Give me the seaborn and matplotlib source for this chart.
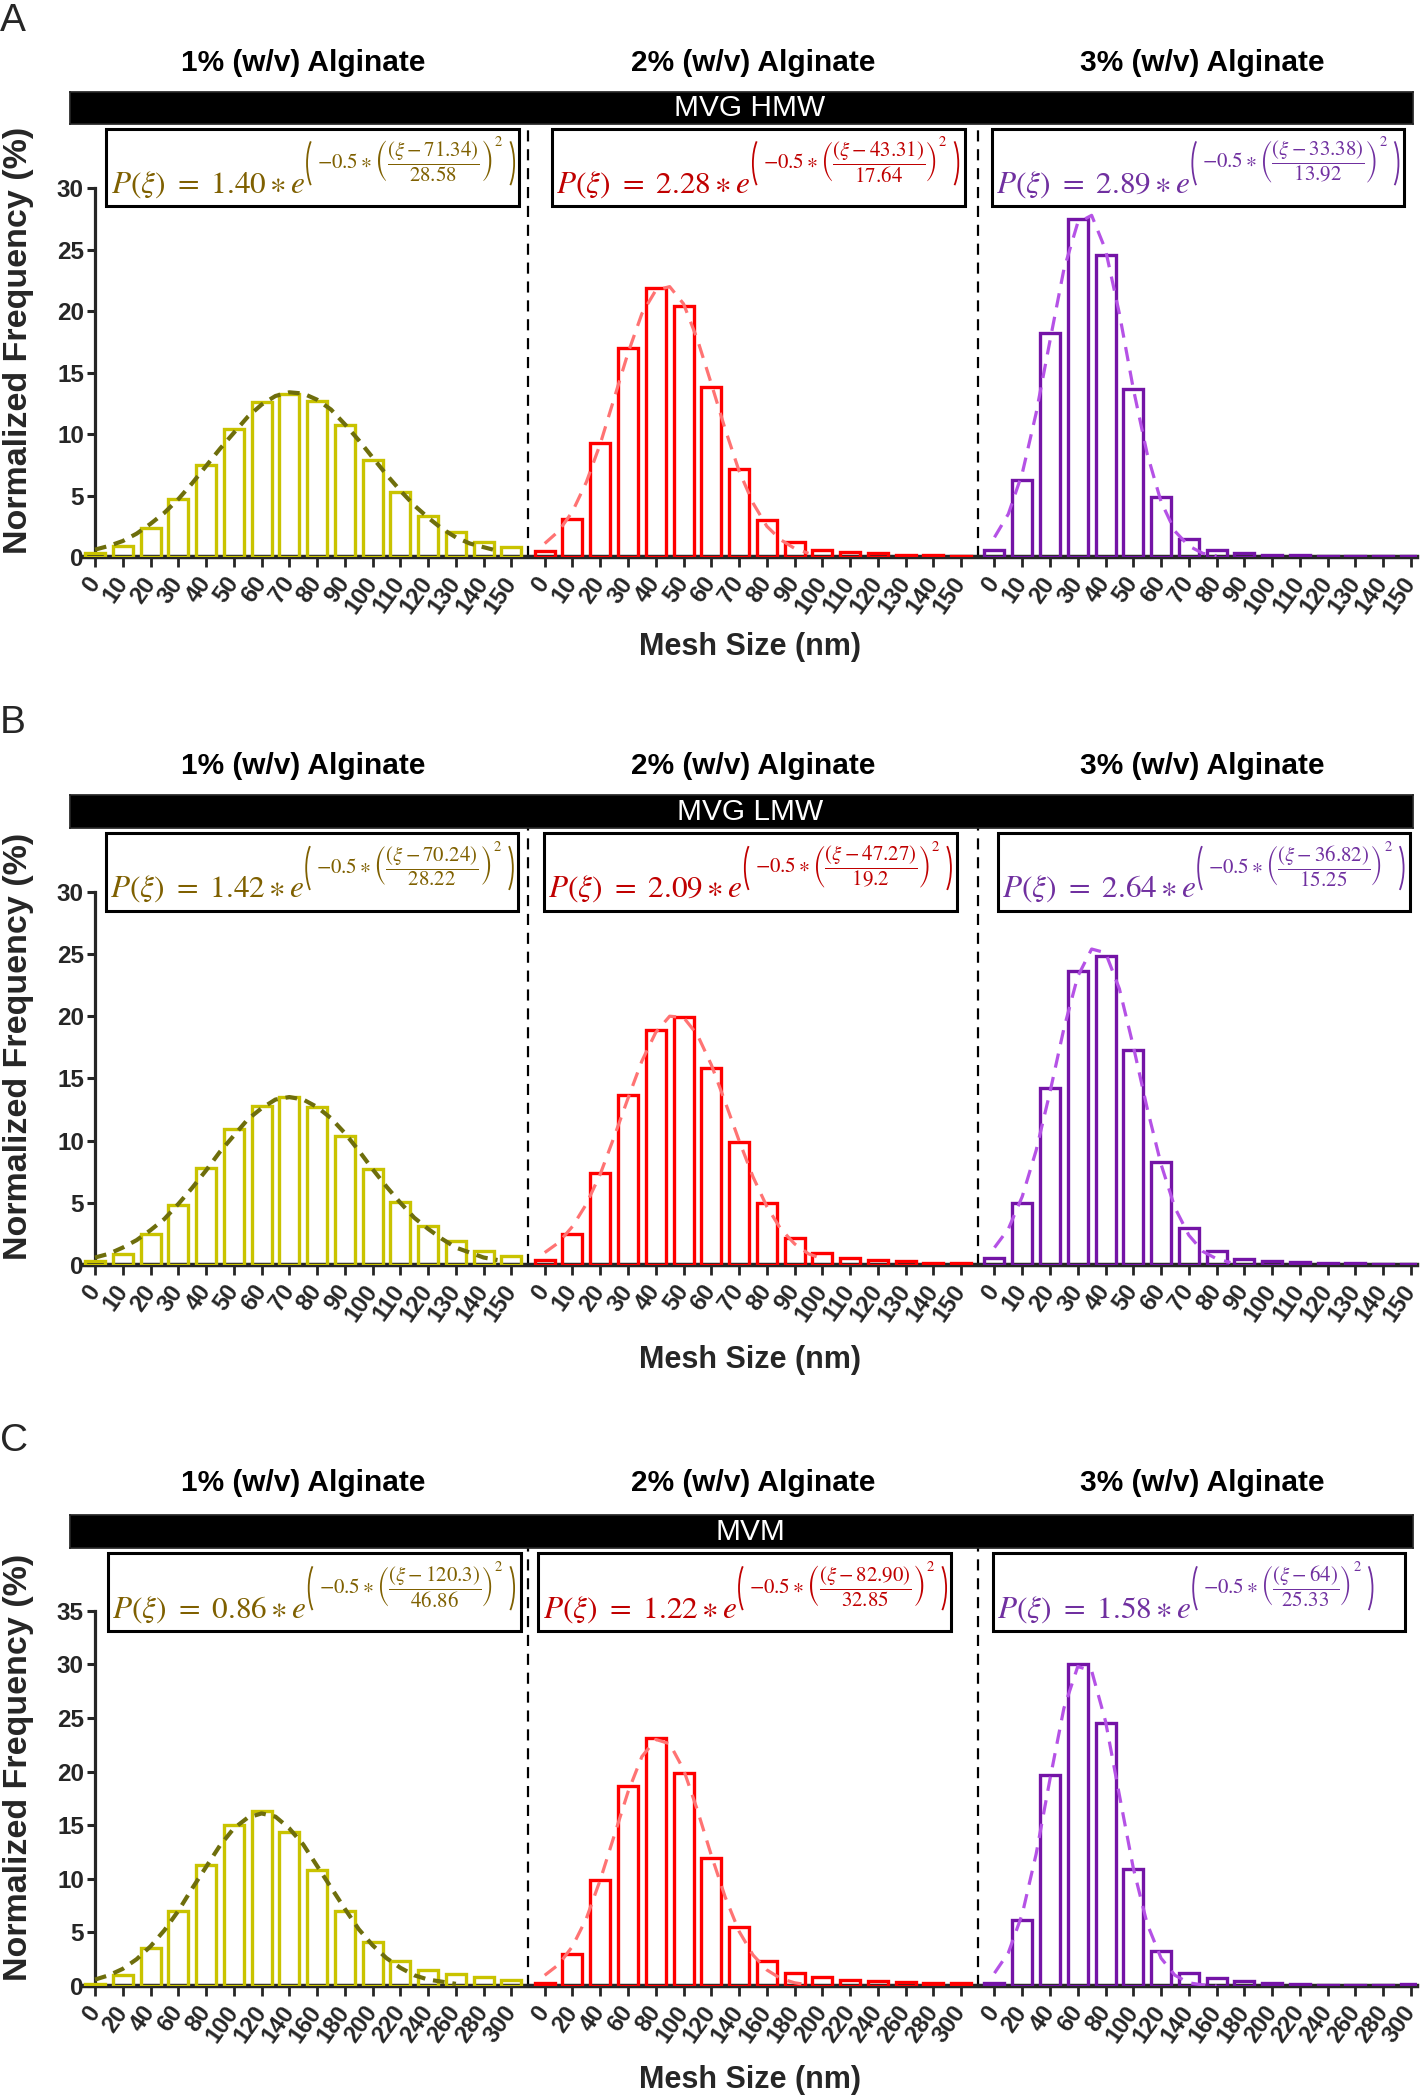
import numpy as np
import pandas as pd
import seaborn as sns
import matplotlib.pyplot as plt
import matplotlib.transforms as mtransforms
from matplotlib.patches import Rectangle, Arc

sns.set_theme(style='ticks')
plt.rcParams['font.family'] = ['Liberation Sans', 'DejaVu Sans']
plt.rcParams['mathtext.fontset'] = 'stix'

# ---------------- 数据 ----------------
groups = ['1% (w/v) Alginate', '2% (w/v) Alginate', '3% (w/v) Alginate']
panel_tags = ['A', 'B', 'C']
panel_names = ['MVG HMW', 'MVG LMW', 'MVM']

bins_ab = [0, 10, 20, 30, 40, 50, 60, 70, 80, 90, 100, 110, 120, 130, 140, 150]
bins_c = [0, 20, 40, 60, 80, 100, 120, 140, 160, 180, 200, 220, 240, 260, 280, 300]

# 柱状图 (Normalized Frequency %)
freq_a1 = [0.3, 0.9, 2.4, 4.7, 7.5, 10.4, 12.6, 13.3, 12.7, 10.7, 7.9, 5.3, 3.3, 2.0, 1.2, 0.8]
freq_a2 = [0.5, 3.1, 9.3, 17.0, 21.9, 20.4, 13.8, 7.2, 3.0, 1.2, 0.6, 0.4, 0.3, 0.2, 0.2, 0.1]
freq_a3 = [0.6, 6.3, 18.2, 27.5, 24.6, 13.7, 4.9, 1.5, 0.6, 0.3, 0.2, 0.15, 0.1, 0.05, 0.05, 0.05]

freq_b1 = [0.3, 0.9, 2.5, 4.8, 7.8, 10.9, 12.8, 13.5, 12.7, 10.4, 7.7, 5.1, 3.1, 1.9, 1.1, 0.7]
freq_b2 = [0.4, 2.5, 7.4, 13.7, 18.9, 19.9, 15.8, 9.9, 5.0, 2.2, 1.0, 0.6, 0.4, 0.3, 0.2, 0.2]
freq_b3 = [0.6, 5.0, 14.2, 23.6, 24.8, 17.3, 8.3, 3.0, 1.1, 0.5, 0.3, 0.25, 0.2, 0.15, 0.1, 0.1]

freq_c1 = [0.2, 1.0, 3.5, 7.0, 11.3, 15.0, 16.3, 14.4, 10.8, 7.0, 4.1, 2.3, 1.5, 1.1, 0.8, 0.6]
freq_c2 = [0.3, 3.0, 9.9, 18.7, 23.1, 19.9, 11.9, 5.5, 2.3, 1.2, 0.8, 0.6, 0.5, 0.4, 0.3, 0.3]
freq_c3 = [0.3, 6.2, 19.7, 30.0, 24.5, 10.9, 3.3, 1.2, 0.7, 0.5, 0.3, 0.2, 0.1, 0.1, 0.05, 0.2]

# 拟合曲线 (读图得到的点)
fit_x_a1 = [0, 5, 10, 15, 20, 25, 30, 35, 40, 45, 50, 55, 60, 65, 70, 75, 80, 85, 90, 95,
            100, 105, 110, 115, 120, 125, 130, 135, 140, 145]
fit_y_a1 = [0.6, 0.9, 1.3, 1.9, 2.7, 3.6, 4.7, 6.0, 7.4, 8.8, 10.1, 11.4, 12.4, 13.1, 13.4, 13.3,
            12.8, 12.0, 10.8, 9.5, 8.1, 6.7, 5.4, 4.2, 3.2, 2.3, 1.6, 1.1, 0.8, 0.5]
fit_x_a2 = [0, 5, 10, 15, 20, 25, 30, 35, 40, 45, 50, 55, 60, 65, 70, 75, 80, 85, 90, 95]
fit_y_a2 = [1.1, 2.1, 3.7, 6.1, 9.2, 12.9, 16.6, 19.8, 21.7, 22.0, 20.6, 17.7, 14.1, 10.4, 7.0,
            4.4, 2.5, 1.4, 0.7, 0.3]
fit_x_a3 = [0, 5, 10, 15, 20, 25, 30, 35, 40, 45, 50, 55, 60, 65, 70, 75, 80]
fit_y_a3 = [1.6, 3.5, 6.8, 11.7, 17.6, 23.4, 27.2, 27.8, 25.0, 19.8, 13.7, 8.4, 4.5, 2.1, 0.9, 0.3, 0.1]

fit_x_b1 = fit_x_a1
fit_y_b1 = [0.6, 0.9, 1.4, 2.0, 2.8, 3.7, 4.9, 6.2, 7.6, 9.1, 10.4, 11.7, 12.6, 13.3, 13.5, 13.3,
            12.7, 11.8, 10.6, 9.2, 7.7, 6.3, 5.0, 3.8, 2.9, 2.1, 1.4, 1.0, 0.6, 0.4]
fit_x_b2 = [0, 5, 10, 15, 20, 25, 30, 35, 40, 45, 50, 55, 60, 65, 70, 75, 80, 85, 90, 95, 100]
fit_y_b2 = [1.0, 1.8, 3.1, 4.9, 7.3, 10.3, 13.4, 16.4, 18.7, 20.0, 19.9, 18.5, 16.1, 13.1, 10.0,
            7.1, 4.7, 2.9, 1.7, 0.9, 0.5]
fit_x_b3 = [0, 5, 10, 15, 20, 25, 30, 35, 40, 45, 50, 55, 60, 65, 70, 75, 80, 85]
fit_y_b3 = [1.4, 2.9, 5.5, 9.2, 13.9, 19.0, 23.2, 25.4, 25.1, 22.2, 17.6, 12.6, 8.1, 4.6, 2.4, 1.1, 0.5, 0.2]

fit_x_c1 = [0, 10, 20, 30, 40, 50, 60, 70, 80, 90, 100, 110, 120, 130, 140, 150, 160, 170, 180,
            190, 200, 210, 220, 230, 240, 250, 260]
fit_y_c1 = [0.6, 1.0, 1.6, 2.5, 3.7, 5.2, 7.0, 9.1, 11.1, 13.1, 14.7, 15.7, 16.1, 15.8, 14.7, 13.2,
            11.2, 9.2, 7.2, 5.3, 3.8, 2.6, 1.7, 1.0, 0.6, 0.4, 0.2]
fit_x_c2 = [0, 10, 20, 30, 40, 50, 60, 70, 80, 90, 100, 110, 120, 130, 140, 150, 160, 170, 180, 190]
fit_y_c2 = [1.0, 2.0, 3.7, 6.3, 9.9, 14.0, 18.1, 21.4, 23.0, 22.6, 20.2, 16.4, 12.2, 8.3, 5.1, 2.9,
            1.5, 0.7, 0.3, 0.1]
fit_x_c3 = [0, 10, 20, 30, 40, 50, 60, 70, 80, 90, 100, 110, 120, 130, 140, 150, 160]
fit_y_c3 = [1.2, 3.1, 6.7, 12.3, 19.3, 25.9, 29.8, 29.4, 24.7, 17.8, 11.0, 5.8, 2.6, 1.0, 0.3, 0.1, 0.0]

# 拟合方程
eq_a = [('1.40', '71.34', '28.58'), ('2.28', '43.31', '17.64'), ('2.89', '33.38', '13.92')]
eq_b = [('1.42', '70.24', '28.22'), ('2.09', '47.27', '19.2'), ('2.64', '36.82', '15.25')]
eq_c = [('0.86', '120.3', '46.86'), ('1.22', '82.90', '32.85'), ('1.58', '64', '25.33')]

y_top_ticks = [30, 30, 35]

# ---------------- 样式 ----------------
bar_colors = ['#C9C300', '#FF0000', '#7414A6']
fit_colors = ['#6E6E0C', '#FF7373', '#B552E6']
eq_colors = ['#7F6000', '#C00000', '#7030A0']

W, H = 1424, 2100
fig = plt.figure(figsize=(W / 100, H / 100), dpi=100)
renderer = fig.canvas.get_renderer()
ident = mtransforms.IdentityTransform()


def px_axes(x0, y0, x1, y1):
    return fig.add_axes([x0 / W, 1 - y1 / H, (x1 - x0) / W, (y1 - y0) / H])


def paren(ax, x, y0, h, color, left=True):
    # 外层大括号 (像素坐标)
    rx = 14
    hh = h / 0.906
    if left:
        arc = Arc((x + rx, y0 + h / 2), 2 * rx, hh, theta1=115, theta2=245, transform=ident,
                  color=color, linewidth=1.3, clip_on=False, zorder=7)
    else:
        arc = Arc((x + 8 - rx, y0 + h / 2), 2 * rx, hh, theta1=-65, theta2=65, transform=ident,
                  color=color, linewidth=1.3, clip_on=False, zorder=7)
    ax.add_artist(arc)


offset = 16.2          # 组间距 (以柱子为单位)
ax_left, ax_right = 82.5, 1417
xlim = (-0.45, 2 * offset + 15.22)

# 每个面板: 坐标轴上/下, 黑条上, 字母位置, 标题距离, xlabel距离, 方程框左边
layout = [
    dict(top=124, bottom=557, bar_top=92, letter=3, title_gap=61, xlab=90,
         box_left=[0.41, 0.27, -0.1]),
    dict(top=828, bottom=1265, bar_top=795, letter=705, title_gap=62, xlab=95,
         box_left=[0.38, -0.02, 0.11]),
    dict(top=1548, bottom=1986, bar_top=1515, letter=1423, title_gap=65, xlab=94,
         box_left=[0.47, -0.23, -0.07]),
]

all_bins = [bins_ab, bins_ab, bins_c]
all_freq = [[freq_a1, freq_a2, freq_a3], [freq_b1, freq_b2, freq_b3], [freq_c1, freq_c2, freq_c3]]
all_fit_x = [[fit_x_a1, fit_x_a2, fit_x_a3], [fit_x_b1, fit_x_b2, fit_x_b3], [fit_x_c1, fit_x_c2, fit_x_c3]]
all_fit_y = [[fit_y_a1, fit_y_a2, fit_y_a3], [fit_y_b1, fit_y_b2, fit_y_b3], [fit_y_c1, fit_y_c2, fit_y_c3]]
all_eq = [eq_a, eq_b, eq_c]

for p in range(3):
    lay = layout[p]
    bins = all_bins[p]
    bw = bins[1] - bins[0]
    ymax_tick = y_top_ticks[p]
    ax_h = lay['bottom'] - lay['top']

    ax = px_axes(ax_left, lay['top'], ax_right, lay['bottom'])
    # y 轴尺度: 像素/单位
    unit_px = [12.29, 12.44, 10.72][p]
    trans = mtransforms.blended_transform_factory(ax.transData, ax.transAxes)

    tick_pos = []
    tick_lab = []
    for g in range(3):
        pos = [b / bw + g * offset for b in bins]
        df = pd.DataFrame({'pos': pos, 'freq': all_freq[p][g]})
        sns.barplot(data=df, x='pos', y='freq', native_scale=True, fill=False,
                    color=bar_colors[g], width=0.72, linewidth=2.4, errorbar=None,
                    ax=ax, zorder=3)
        fx = [v / bw + g * offset for v in all_fit_x[p][g]]
        sns.lineplot(x=fx, y=all_fit_y[p][g], ax=ax, color=fit_colors[g],
                     linewidth=3.0 if g == 0 else 2.3,
                     linestyle=(0, (2.8, 1.9)) if g == 0 else (0, (4.5, 3.0)),
                     zorder=4)
        tick_pos += pos
        tick_lab += [str(b) for b in bins]

        # 组标题
        ax.annotate(groups[g], xy=(g * offset + 7.5, 1), xycoords=('data', 'axes fraction'),
                    xytext=(0, lay['title_gap'] * 0.72), textcoords='offset points',
                    ha='center', va='center', fontsize=21.5, fontweight='bold', color='black')

    ax.set_xlim(*xlim)
    ax.set_ylim(0, ax_h / unit_px)

    # 方程框
    for g in range(3):
        bx = g * offset + lay['box_left'][g]
        ax.add_patch(Rectangle((bx, 0.81), 14.86, 0.178, transform=trans, facecolor='white',
                               edgecolor='black', linewidth=2.2, zorder=6, clip_on=False))
        amp, mu, sig = all_eq[p][g]
        base_xy = (bx + 0.15, 0.81 + 14 / ax_h)
        bxd, byd = trans.transform(base_xy)
        main = ax.text(bxd, byd, r'$P(\xi)\ =\ ' + amp + r'\ast e$', transform=ident,
                       color=eq_colors[g], fontsize=22.5, ha='left', va='baseline', zorder=7)
        w_main = main.get_window_extent(renderer=renderer).width
        x_lp = bxd + w_main + 2
        inner = ax.text(x_lp + 10, byd + 24, r'$-0.5\ast\left(\dfrac{(\xi-' + mu + r')}{' + sig
                        + r'}\right)$', transform=ident, color=eq_colors[g], fontsize=15,
                        ha='left', va='baseline', zorder=7)
        ib = inner.get_window_extent(renderer=renderer)
        sq = ax.text(ib.x1 + 1.5, byd + 46, '$2$', transform=ident, color=eq_colors[g],
                     fontsize=10.5, ha='left', va='baseline', zorder=7)
        sb = sq.get_window_extent(renderer=renderer)
        paren(ax, x_lp, byd, 58, eq_colors[g], left=True)
        paren(ax, sb.x1 + 3, byd, 58, eq_colors[g], left=False)

    # 分隔虚线
    for s in [offset - 0.6, 2 * offset - 0.6]:
        ax.axvline(s, color='black', linewidth=1.6, linestyle=(0, (5, 3.5)), zorder=2)

    ax.set_xticks(tick_pos)
    ax.set_xticklabels(tick_lab)
    ax.set_yticks([0, 5, 10, 15, 20, 25, 30, 35][: ymax_tick // 5 + 1])

    for side in ['top', 'right']:
        ax.spines[side].set_visible(False)
    ax.spines['bottom'].set_linewidth(3.2)
    ax.spines['left'].set_linewidth(2.3)
    ax.spines['left'].set_position(('data', 0))
    ax.spines['left'].set_bounds(0, ymax_tick)
    ax.tick_params(axis='y', direction='out', length=6, width=2.2, labelsize=17.5, pad=2)
    ax.tick_params(axis='x', direction='out', length=7, width=2.0, labelsize=17, pad=9)
    for t in ax.get_yticklabels():
        t.set_fontweight('bold')
    for t in ax.get_xticklabels():
        t.set_fontweight('bold')
        t.set_rotation(55)
        t.set_ha('right')
        t.set_va('center')
        t.set_rotation_mode('anchor')

    ax.set_ylabel('Normalized Frequency (%)', fontsize=24.5, fontweight='bold')
    ax.yaxis.set_label_coords((34 - ax_left) / (ax_right - ax_left), 0.5)
    ax.set_xlabel('Mesh Size (nm)', fontsize=22, fontweight='bold')
    ax.xaxis.set_label_coords(0.5, -lay['xlab'] / ax_h)
    ax.xaxis.label.set_va('center')

    # 黑色标题条
    bar_ax = px_axes(70, lay['bar_top'], 1413, lay['top'])
    bar_ax.set_facecolor('black')
    bar_ax.set_xticks([])
    bar_ax.set_yticks([])
    bar_ax.text((750 - 70) / (1413 - 70), 0.5, panel_names[p], color='white', fontsize=21.5,
                ha='center', va='center', transform=bar_ax.transAxes)

    fig.text(0.0, 1 - lay['letter'] / H, panel_tags[p], fontsize=28, ha='left', va='top')

fig.savefig('out.png', dpi=100)
